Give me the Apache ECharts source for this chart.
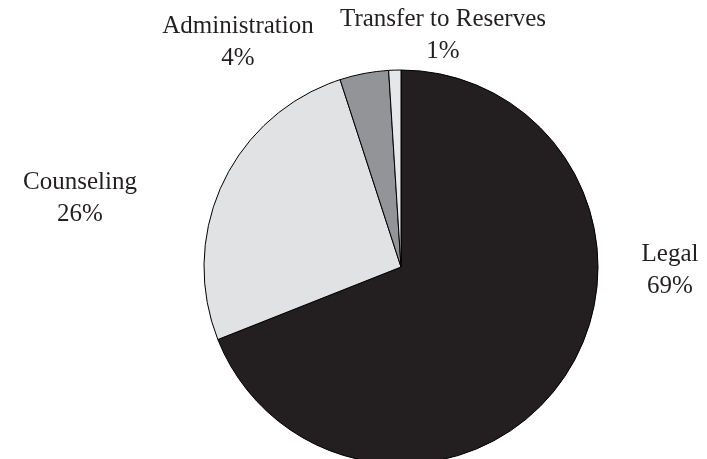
<!DOCTYPE html>
<html>
<head>
<meta charset="utf-8">
<script src="https://cdn.jsdelivr.net/npm/echarts@6/dist/echarts.min.js"></script>
<style>html,body{margin:0;padding:0;background:#fff;}#c{width:707px;height:459px;}</style>
</head>
<body>
<div id="c"></div>
<script>
var categories = ['Legal', 'Counseling', 'Administration', 'Transfer to Reserves'];
var values = [69, 26, 4, 1];
var colors = ['#231f20', '#e1e2e3', '#929497', '#e6e7e8'];
var labelPos = [[670, 270], [80, 198], [238, 42], [443, 35]];

var chart = echarts.init(document.getElementById('c'), null, {renderer: 'canvas'});
chart.setOption({
  animation: false,
  backgroundColor: '#ffffff',
  series: [{
    type: 'pie',
    center: [401, 267],
    radius: [0, 197],
    startAngle: 90,
    clockwise: true,
    avoidLabelOverlap: false,
    itemStyle: {borderColor: '#000', borderWidth: 1},
    label: {
      show: true,
      position: 'outside',
      formatter: '{b}\n{c}%',
      fontFamily: 'Liberation Serif',
      fontSize: 25,
      lineHeight: 32,
      color: '#231f20',
      align: 'center'
    },
    labelLine: {show: false},
    labelLayout: function (p) {
      var pos = labelPos[p.dataIndex];
      return {x: pos[0], y: pos[1], align: 'center', verticalAlign: 'middle'};
    },
    emphasis: {disabled: true},
    data: categories.map(function (n, i) {
      return {name: n, value: values[i], itemStyle: {color: colors[i]}};
    })
  }]
});
</script>
</body>
</html>
